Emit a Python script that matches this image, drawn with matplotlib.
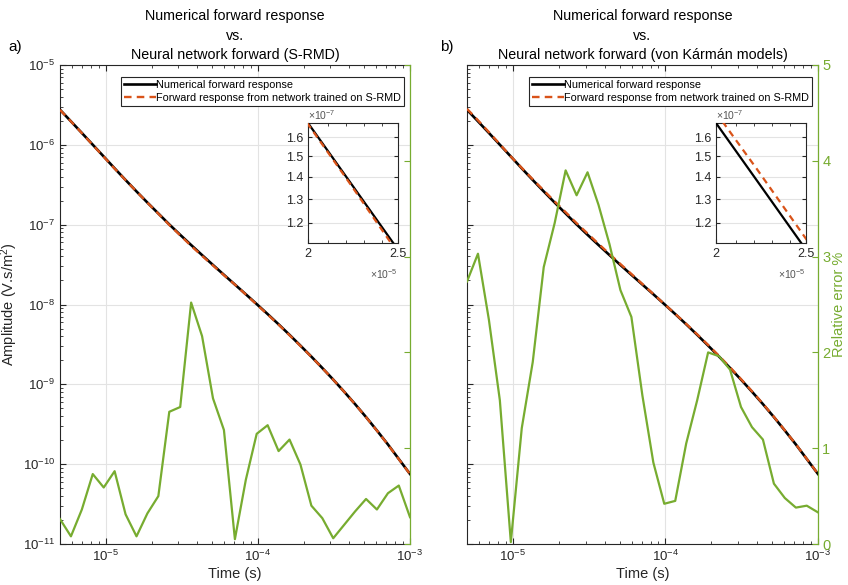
import matplotlib
matplotlib.use("Agg")
import matplotlib.pyplot as plt
from matplotlib.ticker import FixedLocator, FixedFormatter, NullFormatter, LogLocator, LogFormatterMathtext

plt.rcParams['font.family'] = ['Liberation Sans', 'DejaVu Sans']
plt.rcParams['mathtext.fontset'] = 'custom'
plt.rcParams['mathtext.rm'] = 'Liberation Sans'
plt.rcParams['mathtext.it'] = 'Liberation Sans:italic'
plt.rcParams['mathtext.default'] = 'regular'

# ---------------- data ----------------
time_s = [5.00e-6, 5.90e-6, 6.96e-6, 8.21e-6, 9.69e-6, 1.143e-5, 1.349e-5, 1.592e-5,
          1.878e-5, 2.216e-5, 2.615e-5, 3.085e-5, 3.640e-5, 4.295e-5, 5.068e-5, 5.98e-5,
          7.06e-5, 8.33e-5, 9.82e-5, 1.159e-4, 1.368e-4, 1.614e-4, 1.904e-4, 2.247e-4,
          2.651e-4, 3.128e-4, 3.691e-4, 4.355e-4, 5.14e-4, 6.06e-4, 7.16e-4, 8.44e-4, 1.0e-3]

numerical = [2.75e-6, 1.970e-6, 1.408e-6, 1.003e-6, 7.136e-7, 5.076e-7, 3.626e-7, 2.609e-7,
             1.89e-7, 1.38e-7, 1.007e-7, 7.46e-8, 5.56e-8, 4.16e-8, 3.126e-8, 2.355e-8,
             1.778e-8, 1.343e-8, 1.012e-8, 7.586e-9, 5.649e-9, 4.169e-9, 3.055e-9, 2.223e-9,
             1.603e-9, 1.146e-9, 8.09e-10, 5.65e-10, 3.89e-10, 2.64e-10, 1.766e-10, 1.161e-10, 7.53e-11]

network_srmd = [2.743e-6, 1.968e-6, 1.403e-6, 9.957e-7, 7.094e-7, 5.037e-7, 3.615e-7, 2.607e-7,
                1.884e-7, 1.373e-7, 9.931e-8, 7.353e-8, 5.420e-8, 4.070e-8, 3.078e-8, 2.327e-8,
                1.777e-8, 1.334e-8, 1.000e-8, 7.492e-9, 5.594e-9, 4.124e-9, 3.030e-9, 2.214e-9,
                1.599e-9, 1.145e-9, 8.074e-10, 5.631e-10, 3.872e-10, 2.630e-10, 1.757e-10, 1.154e-10, 7.509e-11]

network_vk = [2.825e-6, 2.030e-6, 1.441e-6, 1.018e-6, 7.137e-7, 5.137e-7, 3.695e-7, 2.684e-7,
              1.953e-7, 1.434e-7, 1.044e-7, 7.749e-8, 5.757e-8, 4.290e-8, 3.209e-8, 2.411e-8,
              1.806e-8, 1.354e-8, 1.016e-8, 7.620e-9, 5.708e-9, 4.232e-9, 3.116e-9, 2.267e-9,
              1.632e-9, 1.162e-9, 8.189e-10, 5.712e-10, 3.915e-10, 2.653e-10, 1.773e-10, 1.166e-10, 7.555e-11]

rel_err_srmd = [0.26, 0.08, 0.36, 0.73, 0.59, 0.76, 0.31, 0.08, 0.32, 0.50, 1.38, 1.43, 2.52,
                2.17, 1.52, 1.19, 0.05, 0.67, 1.15, 1.24, 0.97, 1.09, 0.83, 0.40, 0.27, 0.06,
                0.20, 0.34, 0.47, 0.36, 0.53, 0.61, 0.28]

rel_err_vk = [2.74, 3.03, 2.34, 1.50, 0.02, 1.21, 1.90, 2.89, 3.35, 3.90, 3.64, 3.88, 3.54,
              3.13, 2.65, 2.37, 1.55, 0.85, 0.42, 0.45, 1.05, 1.50, 2.00, 1.96, 1.82, 1.43,
              1.22, 1.09, 0.63, 0.48, 0.38, 0.40, 0.33]

label_num = "Numerical forward response"
label_net = "Forward response from network trained on S-RMD"
titles = ["Numerical forward response\nvs.\nNeural network forward (S-RMD)",
          "Numerical forward response\nvs.\nNeural network forward (von Kármán models)"]
panel_tags = ["a)", "b)"]
err_ticks = [0, 1, 2, 3, 4, 5]
inset_yticks = [1.2e-7, 1.3e-7, 1.4e-7, 1.5e-7, 1.6e-7]
inset_ylabels = ["1.2", "1.3", "1.4", "1.5", "1.6"]
inset_xticks = [2e-5, 2.5e-5]
inset_xlabels = ["2", "2.5"]

# ---------------- style ----------------
BLACK = "black"
ORANGE = "#D95319"
GREEN = "#77AC30"
AXC = "#262626"
GRIDC = "#E3E3E3"

W, H = 848, 585
fig = plt.figure(figsize=(W / 100, H / 100), dpi=100)

panels = [
    dict(x0=60, x1=410, net=network_srmd, err=rel_err_srmd, tag_x=8, show_left=True, show_right=False, ins_x=308),
    dict(x0=467, x1=818, net=network_vk, err=rel_err_vk, tag_x=440, show_left=False, show_right=True, ins_x=716),
]
y_top, y_bot = 65, 544

for i, p in enumerate(panels):
    ax = fig.add_axes([p['x0'] / W, 1 - y_bot / H, (p['x1'] - p['x0']) / W, (y_bot - y_top) / H])
    ax.set_xscale('log')
    ax.set_yscale('log')
    ax.plot(time_s, numerical, color=BLACK, lw=1.9, label=label_num, zorder=3)
    ax.plot(time_s, p['net'], color=ORANGE, lw=1.7, ls=(0, (3.2, 2.2)), label=label_net, zorder=4)
    ax.set_xlim(5e-6, 1e-3)
    ax.set_ylim(1e-11, 1e-5)
    ax.grid(True, which='major', color=GRIDC, lw=0.8)
    ax.set_axisbelow(True)
    ax.xaxis.set_major_locator(LogLocator(base=10, numticks=10))
    ax.xaxis.set_minor_locator(LogLocator(base=10, subs=range(2, 10), numticks=20))
    ax.yaxis.set_major_locator(LogLocator(base=10, numticks=10))
    ax.yaxis.set_minor_locator(LogLocator(base=10, subs=range(2, 10), numticks=20))
    ax.xaxis.set_major_formatter(LogFormatterMathtext())
    ax.xaxis.set_minor_formatter(NullFormatter())
    ax.yaxis.set_minor_formatter(NullFormatter())
    ax.tick_params(which='both', direction='in', top=True, right=False, colors=AXC, labelsize=9.5)
    ax.tick_params(which='major', length=4)
    ax.tick_params(which='minor', length=2.2)
    if p['show_left']:
        ax.yaxis.set_major_formatter(LogFormatterMathtext())
        ax.set_ylabel("Amplitude (V.s/m$^2$)", fontsize=10.5, color=AXC, labelpad=2)
    else:
        ax.yaxis.set_major_formatter(NullFormatter())
    for s in ['left', 'top', 'bottom']:
        ax.spines[s].set_color(AXC)
        ax.spines[s].set_linewidth(0.8)
    ax.spines['right'].set_visible(False)
    ax.set_xlabel("Time (s)", fontsize=10.5, color=AXC, labelpad=2)
    ax.set_title(titles[i], fontsize=10.3, color='black', linespacing=1.5, pad=4)

    leg = ax.legend(loc='upper right', bbox_to_anchor=(0.982, 0.975), fontsize=7.8,
                    frameon=True, fancybox=False, framealpha=1, edgecolor=AXC,
                    handlelength=2.9, handletextpad=0.05, borderpad=0.25, labelspacing=0.3,
                    borderaxespad=0)
    leg.get_frame().set_linewidth(0.8)

    tw = ax.twinx()
    tw.plot(time_s, p['err'], color=GREEN, lw=1.6, zorder=5)
    tw.set_xlim(5e-6, 1e-3)
    tw.set_ylim(0, 5)
    tw.yaxis.set_major_locator(FixedLocator(err_ticks))
    tw.tick_params(axis='y', direction='in', colors=GREEN, labelsize=10.5, length=4, pad=3)
    for s in ['left', 'top', 'bottom']:
        tw.spines[s].set_visible(False)
    tw.spines['right'].set_color(GREEN)
    tw.spines['right'].set_linewidth(0.9)
    if p['show_right']:
        tw.set_ylabel("Relative error %", color=GREEN, fontsize=10.5, labelpad=1)
    else:
        tw.yaxis.set_major_formatter(NullFormatter())

    fig.text(p['tag_x'] / W, 1 - 47 / H, panel_tags[i], fontsize=11, va='center', ha='left')

    # inset
    ins = fig.add_axes([p['ins_x'] / W, 1 - 243 / H, 90 / W, 120 / H])
    ins.set_xscale('log')
    ins.set_yscale('log')
    ins.plot(time_s, numerical, color=BLACK, lw=1.6, zorder=3)
    ins.plot(time_s, p['net'], color=ORANGE, lw=1.6, ls=(0, (3.0, 2.2)), zorder=4)
    ins.set_xlim(2e-5, 2.5e-5)
    ins.set_ylim(1.122e-7, 1.677e-7)
    ins.yaxis.set_major_locator(FixedLocator(inset_yticks))
    ins.yaxis.set_major_formatter(FixedFormatter(inset_ylabels))
    ins.yaxis.set_minor_locator(FixedLocator([]))
    ins.yaxis.set_minor_formatter(NullFormatter())
    ins.xaxis.set_major_locator(FixedLocator(inset_xticks))
    ins.xaxis.set_major_formatter(FixedFormatter(inset_xlabels))
    ins.xaxis.set_minor_locator(FixedLocator([2.1e-5, 2.2e-5, 2.3e-5, 2.4e-5]))
    ins.xaxis.set_minor_formatter(NullFormatter())
    ins.grid(True, axis='y', which='major', color=GRIDC, lw=0.8)
    ins.set_axisbelow(True)
    ins.tick_params(which='both', direction='in', top=True, right=True, colors=AXC, labelsize=9)
    ins.tick_params(which='major', length=3)
    ins.tick_params(which='minor', length=2)
    for s in ins.spines.values():
        s.set_color(AXC)
        s.set_linewidth(0.8)
    ins.text(0.0, 1.01, r"$\times10^{-7}$", transform=ins.transAxes, fontsize=7.5,
             color='#555555', ha='left', va='bottom')
    ins.text(1.0, -0.2, r"$\times10^{-5}$", transform=ins.transAxes, fontsize=7.5,
             color='#555555', ha='right', va='top')

fig.savefig("out.png", dpi=100)
